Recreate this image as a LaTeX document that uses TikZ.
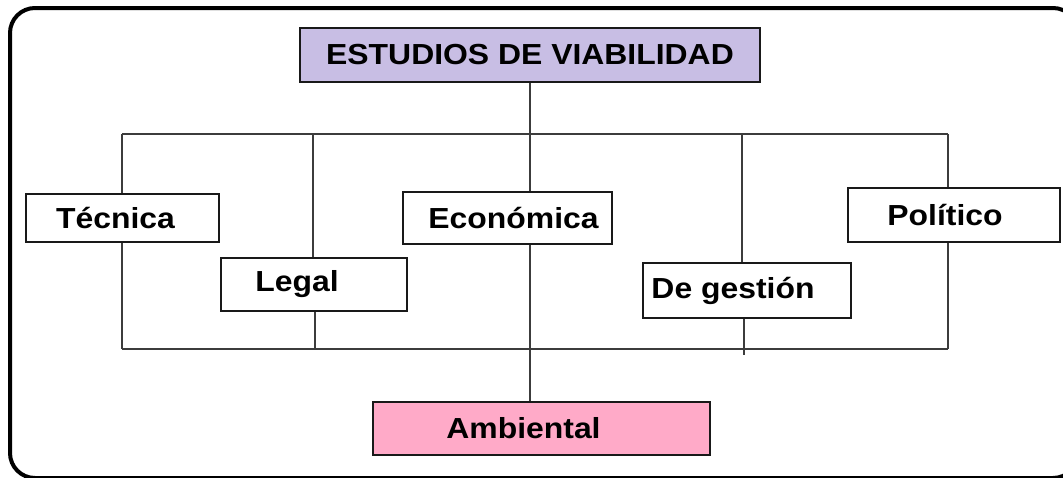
\documentclass[tikz,border=0pt]{standalone}
\usepackage{fontspec}
\setmainfont{Liberation Sans}[FakeStretch=1.1]
\definecolor{lila}{RGB}{200,190,228}
\definecolor{rosa}{RGB}{255,170,200}
\definecolor{linea}{RGB}{60,60,60}
\begin{document}
\begin{tikzpicture}[x=1pt,y=-1pt,
  caja/.style={draw=black!90,line width=1.6pt,fill=white,inner sep=0pt,
    font=\fontsize{29}{32}\selectfont\bfseries},
  rama/.style={draw=linea,line width=1.6pt}]
\useasboundingbox (0,0) rectangle (1063,477);
\clip (0,0) rectangle (1063,477);
\draw[line width=4pt,rounded corners=25pt] (10,8) rectangle (1078,478);

\node[caja,fill=lila,minimum width=460pt,minimum height=54pt] (titulo) at (530,55) {ESTUDIOS DE VIABILIDAD};
\node[caja,minimum width=193pt,minimum height=48pt] (tecnica) at (122.5,218) {Técnica\hspace*{14pt}};
\node[caja,minimum width=186pt,minimum height=53pt] (legal) at (314,284.5) {Legal\hspace*{34pt}};
\node[caja,minimum width=209pt,minimum height=52pt] (economica) at (507.5,218) {\hspace*{12pt}Económica};
\node[caja,minimum width=208pt,minimum height=55pt] (gestion) at (747,290.5) {De gestión\hspace*{28pt}};
\node[caja,minimum width=212pt,minimum height=54pt] (politico) at (954,215) {Político\hspace*{18pt}};
\node[caja,fill=rosa,minimum width=337pt,minimum height=53pt] (ambiental) at (541.5,428.5) {Ambiental\hspace*{36pt}};

% barra de arriba
\coordinate (a1) at (122,134);
\coordinate (a2) at (313,134);
\coordinate (a3) at (530,134);
\coordinate (a4) at (742,134);
\coordinate (a5) at (948,134);
% barra de abajo
\coordinate (b1) at (122,349);
\coordinate (b2) at (315,349);
\coordinate (b4) at (744,349);
\coordinate (b5) at (948,349);

\draw[rama] (titulo.south -| a3) -- (a3);
\draw[rama] (a1) -- (a5);
\draw[rama] (a1) -- (a1 |- tecnica.north);
\draw[rama] (a2) -- (a2 |- legal.north);
\draw[rama] (a3) -- (a3 |- economica.north);
\draw[rama] (a4) -- (a4 |- gestion.north);
\draw[rama] (a5) -- (a5 |- politico.north);

\draw[rama] (b1) -- (b5);
\draw[rama] (b1 |- tecnica.south) -- (b1);
\draw[rama] (b2 |- legal.south) -- (b2);
\draw[rama] (b4 |- gestion.south) -- ([yshift=-6pt]b4);
\draw[rama] (b5 |- politico.south) -- (b5);
\draw[rama] (a3 |- economica.south) -- (a3 |- ambiental.north);
\end{tikzpicture}
\end{document}
